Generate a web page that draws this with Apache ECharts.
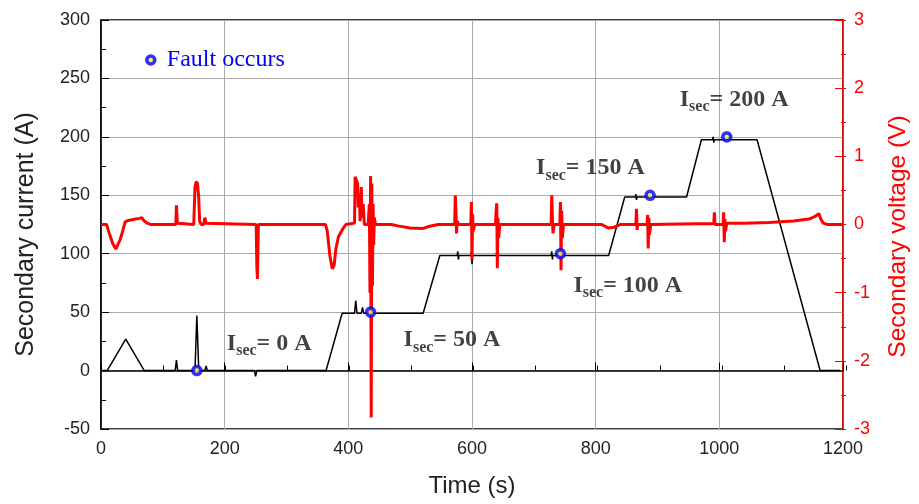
<!DOCTYPE html>
<html>
<head>
<meta charset="utf-8">
<script src="https://cdn.jsdelivr.net/npm/echarts@6/dist/echarts.min.js"></script>
<style>
  html, body { margin: 0; padding: 0; background: #fff; }
  #chart { width: 919px; height: 504px; }
</style>
</head>
<body>
<div id="chart"></div>
<script>
// Secondary current over time, [time s, current A]
const currentData = [
  [0, 0], [10, 0], [40, 27], [70, 0], [120, 0], [122, 9], [124, 0],
  [152, 0], [155, 47], [158, 2], [162, 0], [168, 0], [170, 4], [172, 0],
  [248, 0], [250, -5], [252, 0], [364, 0], [390, 49], [410, 49], [412, 60],
  [414, 49], [421, 49], [423, 54], [425, 49], [521, 49], [548, 98.5],
  [576, 98.5], [577, 102], [578, 95], [579, 98.5], [598, 98.5], [599, 102],
  [600, 91], [601, 98.5], [639, 98.5], [640, 101], [641, 96], [642, 98.5],
  [728, 98.5], [729, 102], [730, 95], [731, 98.5], [821, 98.5], [847, 148.5],
  [864, 148.5], [865, 151], [866, 146], [867, 148.5], [947, 148.5],
  [971, 197.5], [989, 197.5], [990, 200], [991, 195], [992, 197.5],
  [1061, 197.5], [1163, 0], [1195, 0]
];

// Secondary voltage over time, [time s, voltage V]
const voltageData = [
  [0, 0], [9, 0], [13, -0.12], [19, -0.28], [24, -0.36], [27, -0.35],
  [31, -0.22], [35, -0.1], [39, 0.04], [44, 0.06], [50, 0.07], [56, 0.08],
  [62, 0.09], [66, 0.1], [70, 0.05], [75, 0.02], [80, 0], [121, 0],
  [122, 0.28], [123.5, 0.02], [125, 0], [150, 0], [152, 0.55], [154, 0.63],
  [156, 0.6], [158, 0.4], [159.5, 0.05], [162, 0], [166, 0], [168, 0.1],
  [170, 0.02], [172, 0], [251, 0], [252, -0.6], [253, -0.8], [254.5, 0],
  [363, 0], [366, -0.1], [370, -0.45], [374, -0.65], [377, -0.6],
  [380, -0.35], [384, -0.18], [390, -0.08], [396, 0], [410, 0.02],
  [411, 0.7], [413, 0.68], [415, 0.6], [416, 0.25], [418, 0.45], [419, 0.05],
  [421, 0.55], [422, 0.1], [424, 0.3], [426, 0], [432, 0], [434, 0.3],
  [435, -1], [436, 0.71], [437, -2.83], [438, 0.6], [439, -0.9], [440, 0.3],
  [441, -0.3], [442, 0.1], [444, 0], [470, 0], [480, -0.02], [500, -0.05],
  [520, -0.06], [530, -0.03], [545, 0], [572, 0], [573, 0.43], [574, 0.2],
  [575, -0.13], [576, 0.05], [578, 0], [598, 0], [599, 0.33], [600, -0.52],
  [601, 0.15], [602, -0.1], [604, 0], [638, 0], [639, 0.2], [640, 0.31],
  [641, -0.64], [642, 0.1], [643, -0.2], [645, 0], [728, 0], [729, 0.43],
  [730, 0.1], [731, -0.13], [733, 0], [742, 0], [743, 0.33], [744, -0.67],
  [745, 0.2], [746, -0.2], [748, 0], [810, 0], [820, -0.05], [830, -0.04],
  [840, 0], [865, 0], [866, 0.23], [867, -0.08], [868, 0], [883, 0],
  [884, 0.14], [885, -0.35], [886, 0.1], [887, -0.15], [889, 0],
  [960, 0.01], [991, 0.01], [992, 0.18], [993, 0], [1006, 0], [1007, 0.18],
  [1008, -0.26], [1009, 0.08], [1010, -0.1], [1012, 0.02], [1040, 0.02],
  [1080, 0.03], [1120, 0.05], [1145, 0.08], [1155, 0.12], [1161, 0.16],
  [1164, 0.08], [1168, 0.02], [1175, 0], [1200, 0]
];

// Fault instants and the secondary current level at each
const faultTimes = [155, 436, 743, 888, 1012];
const faultCurrents = [0, 50, 100, 150, 200];

// Axis ranges and tick steps
const timeTicks = [0, 200, 400, 600, 800, 1000, 1200];
const currentTicks = [-50, 0, 50, 100, 150, 200, 250, 300];
const voltageTicks = [-3, -2, -1, 0, 1, 2, 3];

// Pixel offsets of each "Isec" caption from its fault marker
const captionOffsets = [[30, -27], [33, 28], [13, 32], [-114, -27], [-47, -37]];

const sans = 'Liberation Sans, Arial, sans-serif';
const serif = 'Liberation Serif, Times New Roman, serif';
const RED = '#ff0000';
const BLUE = '#0000ff';
const faultStyle = { color: '#f4f44a', borderColor: BLUE, borderWidth: 3.6 };

const tMin = timeTicks[0], tMax = timeTicks[timeTicks.length - 1];
const iMin = currentTicks[0], iMax = currentTicks[currentTicks.length - 1];
const vMin = voltageTicks[0], vMax = voltageTicks[voltageTicks.length - 1];

const plotBox = { left: 101, right: 73, top: 20, bottom: 75 };

const faultPoints = faultTimes.map((t, i) => ({
  value: [t, faultCurrents[i]],
  label: { offset: captionOffsets[i] }
}));

// An axis on the overlay grid that only draws short inward (minor) ticks
function minorTickAxis(base, color) {
  return Object.assign({
    type: 'value',
    gridIndex: 1,
    axisLine: { show: false },
    axisLabel: { show: false },
    splitLine: { show: false },
    axisTick: { show: true, inside: true, length: 5, lineStyle: { color: color } }
  }, base);
}

const chart = echarts.init(document.getElementById('chart'), null, { renderer: 'canvas' });

chart.setOption({
  animation: false,
  backgroundColor: '#fff',
  grid: [
    Object.assign({ show: true, borderColor: '#000', borderWidth: 1.5, backgroundColor: 'transparent' }, plotBox),
    Object.assign({ show: false }, plotBox)
  ],
  legend: {
    left: 140, top: 43,
    itemWidth: 14, itemHeight: 8, itemGap: 0,
    data: [{ name: 'Fault occurs', icon: 'circle', itemStyle: faultStyle }],
    textStyle: { fontFamily: serif, fontSize: 24, color: BLUE, padding: [0, 0, 0, 4] }
  },
  xAxis: [
    {
      type: 'value', gridIndex: 0, min: tMin, max: tMax, interval: 200,
      name: 'Time (s)', nameLocation: 'middle', nameGap: 45,
      nameTextStyle: { fontFamily: sans, fontSize: 24, color: '#222' },
      axisLine: { show: true, lineStyle: { color: '#000', width: 1.5 } },
      axisTick: { show: true, inside: true, length: 8, lineStyle: { color: '#000' } },
      axisLabel: { fontFamily: sans, fontSize: 18, color: '#222', margin: 11, formatter: v => String(v) },
      splitLine: { show: true, lineStyle: { color: '#aaa', width: 1 } }
    },
    minorTickAxis({ min: tMin, max: tMax, interval: 100, position: 'bottom' }, '#000')
  ],
  yAxis: [
    {
      type: 'value', gridIndex: 0, min: iMin, max: iMax, interval: 50,
      name: 'Secondary current (A)', nameLocation: 'middle', nameGap: 62, nameRotate: 90,
      nameTextStyle: { fontFamily: sans, fontSize: 25, color: '#222', padding: [0, 20, 0, 0] },
      axisLine: { show: true, lineStyle: { color: '#000', width: 1.5 } },
      axisTick: { show: true, inside: true, length: 8, lineStyle: { color: '#000' } },
      axisLabel: { fontFamily: sans, fontSize: 18, color: '#222', margin: 11 },
      splitLine: { show: true, lineStyle: { color: '#aaa', width: 1 } }
    },
    {
      type: 'value', gridIndex: 0, position: 'right', min: vMin, max: vMax, interval: 1,
      name: 'Secondary voltage (V)', nameLocation: 'middle', nameGap: 43, nameRotate: 90,
      nameTextStyle: { fontFamily: sans, fontSize: 24.5, color: RED, padding: [0, 24, 0, 0] },
      axisLine: { show: true, lineStyle: { color: RED, width: 1.5 } },
      axisTick: { show: true, inside: true, length: 8, lineStyle: { color: RED } },
      axisLabel: { fontFamily: sans, fontSize: 18, color: RED, margin: 11 },
      splitLine: { show: false }
    },
    minorTickAxis({ min: iMin, max: iMax, interval: 25, position: 'left' }, '#000'),
    minorTickAxis({ min: vMin, max: vMax, interval: 0.5, position: 'right' }, RED)
  ],
  series: [
    {
      name: 'Secondary current',
      type: 'line', xAxisIndex: 0, yAxisIndex: 0,
      data: currentData,
      showSymbol: false, symbol: 'none',
      lineStyle: { color: '#000', width: 1.5 },
      z: 2
    },
    {
      name: 'Secondary voltage',
      type: 'line', xAxisIndex: 0, yAxisIndex: 1,
      data: voltageData,
      showSymbol: false, symbol: 'none',
      lineStyle: { color: RED, width: 3 },
      z: 3
    },
    {
      name: 'Fault occurs',
      type: 'scatter', xAxisIndex: 0, yAxisIndex: 0,
      data: faultPoints,
      symbol: 'circle', symbolSize: 8,
      itemStyle: faultStyle,
      label: {
        show: true,
        position: 'inside',
        align: 'left',
        verticalAlign: 'middle',
        formatter: p => '{i|I}{s|sec}{i|= ' + p.value[1] + ' A}',
        rich: {
          i: { fontFamily: serif, fontWeight: 'bold', fontSize: 24, color: '#111' },
          s: { fontFamily: serif, fontWeight: 'bold', fontSize: 16, color: '#111', padding: [15, 0, 0, 0] }
        }
      },
      z: 5
    }
  ]
});
</script>
</body>
</html>
